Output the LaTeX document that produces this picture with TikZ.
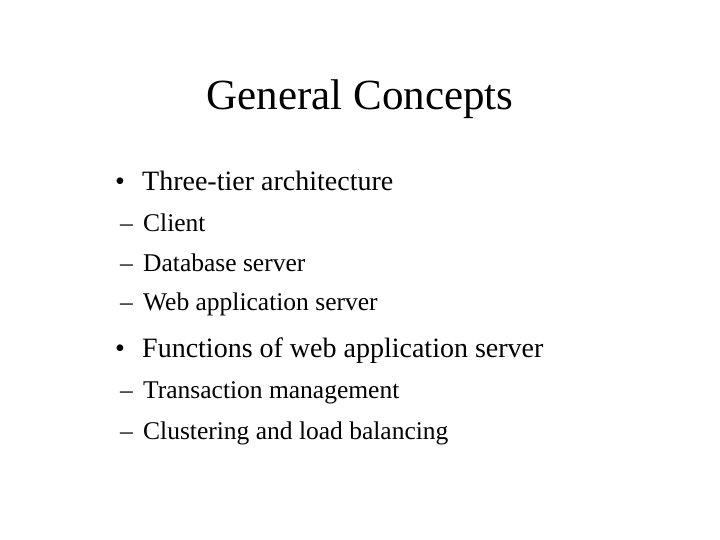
\documentclass[tikz,border=0pt]{standalone}
\usepackage{fontspec}
\setmainfont{Liberation Serif}
\begin{document}
\begin{tikzpicture}[x=1pt,y=-1pt,
  title/.style={font=\fontsize{43}{48}\selectfont,anchor=base},
  lone/.style={font=\fontsize{28}{32}\selectfont,anchor=base west,inner sep=0},
  ltwo/.style={font=\fontsize{25.5}{28}\selectfont,anchor=base west,inner sep=0}]
\useasboundingbox (0,0) rectangle (720,540);
\node[title] (t) at (360,110) {General Concepts};
\node[lone] (b1) at (115,191) {•};
\node[lone] (i1) at (142,191) {Three-tier architecture};
\node[ltwo] (d1) at (120,231) {–};
\node[ltwo] (s1) at (143,231) {Client};
\node[ltwo] (d2) at (120,271) {–};
\node[ltwo] (s2) at (143,271) {Database server};
\node[ltwo] (d3) at (120,310) {–};
\node[ltwo] (s3) at (143,310) {Web application server};
\node[lone] (b2) at (115,357) {•};
\node[lone] (i2) at (142,357) {Functions of web application server};
\node[ltwo] (d4) at (120,398) {–};
\node[ltwo] (s4) at (143,398) {Transaction management};
\node[ltwo] (d5) at (120,439) {–};
\node[ltwo] (s5) at (143,439) {Clustering and load balancing};
\end{tikzpicture}
\end{document}
